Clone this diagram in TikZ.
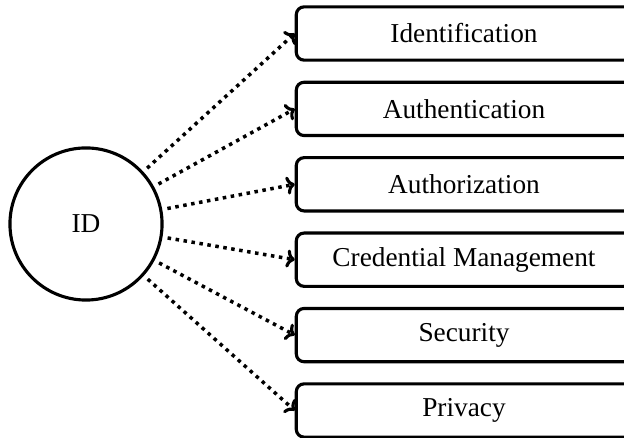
\documentclass[tikz,border=0pt]{standalone}
\usepackage{fontspec}
\usetikzlibrary{arrows.meta}
\setmainfont{Liberation Serif}
\begin{document}
\begin{tikzpicture}[x=0.3846pt,y=-0.3846pt,
  catbox/.style={draw,line width=1.2pt,rounded corners=3pt,minimum width=129pt,minimum height=20.5pt,inner sep=0pt,font=\fontsize{10.5}{12}\selectfont},
  hub/.style={draw,circle,line width=1.2pt,minimum size=58.5pt,inner sep=0pt,font=\fontsize{10.5}{12}\selectfont},
  link/.style={-{To[length=3.2pt,width=7pt,line width=1.2pt]},line width=1.35pt,dash pattern=on 1.35pt off 1.75pt,shorten <=2pt}]
\useasboundingbox (0,0) rectangle (624,438);
\node[hub] (id) at (86,224) {ID};
\node[catbox] (b1) at (464,33.5) {Identification};
\node[catbox] (b2) at (464,108.9) {Authentication};
\node[catbox] (b3) at (464,184.3) {Authorization};
\node[catbox] (b4) at (464,259.7) {Credential Management};
\node[catbox] (b5) at (464,335.1) {Security};
\node[catbox] (b6) at (464,410.5) {Privacy};
\foreach \b in {b1,b2,b3,b4,b5,b6}
  \draw[link] (id) -- (\b.west);
\end{tikzpicture}
\end{document}
